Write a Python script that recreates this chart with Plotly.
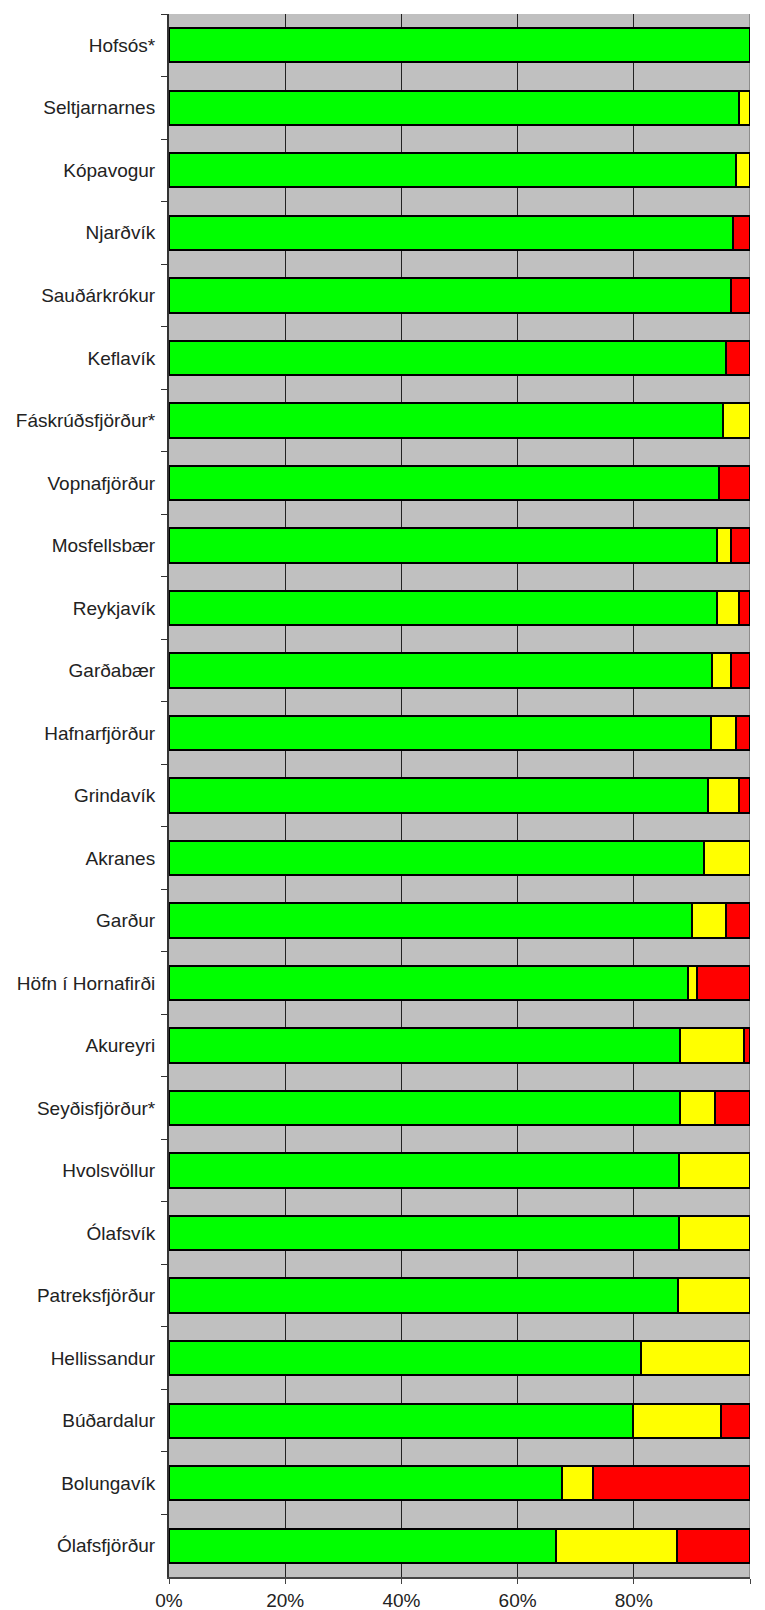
import plotly.graph_objects as go

towns = ["Hofsós*", "Seltjarnarnes", "Kópavogur", "Njarðvík", "Sauðárkrókur",
         "Keflavík", "Fáskrúðsfjörður*", "Vopnafjörður", "Mosfellsbær", "Reykjavík",
         "Garðabær", "Hafnarfjörður", "Grindavík", "Akranes", "Garður",
         "Höfn í Hornafirði", "Akureyri", "Seyðisfjörður*", "Hvolsvöllur", "Ólafsvík",
         "Patreksfjörður", "Hellissandur", "Búðardalur", "Bolungavík", "Ólafsfjörður"]

green = [100.0, 98.1, 97.6, 97.1, 96.8, 95.9, 95.4, 94.6, 94.3, 94.3,
         93.5, 93.3, 92.7, 92.1, 90.0, 89.4, 88.0, 88.0, 87.8, 87.8,
         87.6, 81.2, 79.9, 67.6, 66.6]
yellow = [0.0, 1.9, 2.4, 0.0, 0.0, 0.0, 4.6, 0.0, 2.4, 3.8,
          3.2, 4.3, 5.4, 7.9, 5.9, 1.4, 10.9, 6.0, 12.2, 12.2,
          12.4, 18.8, 15.1, 5.3, 20.9]
red = [0.0, 0.0, 0.0, 2.9, 3.2, 4.1, 0.0, 5.4, 3.3, 1.9,
       3.3, 2.4, 1.9, 0.0, 4.1, 9.2, 1.1, 6.0, 0.0, 0.0,
       0.0, 0.0, 5.0, 27.1, 12.5]

x_ticks = [0, 20, 40, 60, 80, 100]
x_labels = ["0%", "20%", "40%", "60%", "80%", "100%"]

series = [("green", green, "#00FF00"), ("yellow", yellow, "#FFFF00"), ("red", red, "#FF0000")]

fig = go.Figure()
for name, vals, col in series:
    fig.add_trace(go.Bar(
        y=towns, x=[v if v > 0 else None for v in vals], orientation="h", name=name,
        marker=dict(color=col, line=dict(color="#000000", width=2)),
        showlegend=False, hoverinfo="skip"))

fig.update_layout(
    barmode="stack", bargap=0.45,
    width=765, height=1610,
    margin=dict(l=169, r=15, t=14, b=33, autoexpand=False),
    paper_bgcolor="white", plot_bgcolor="#C0C0C0",
    font=dict(family="Liberation Sans, Arial, sans-serif", size=19, color="#222222"),
    xaxis=dict(range=[0, 100], tickvals=x_ticks, ticktext=x_labels,
               showgrid=True, gridcolor="#222222", gridwidth=1,
               showline=True, linecolor="#444444", linewidth=2,
               ticks="outside", ticklen=5, tickcolor="#444444",
               zeroline=False, automargin=False, fixedrange=True),
    yaxis=dict(autorange="reversed", showgrid=False,
               showline=True, linecolor="#333333", linewidth=2,
               ticks="outside", ticklen=6, tickcolor="#333333", tickson="boundaries",
               ticklabelstandoff=8, automargin=False, fixedrange=True),
    shapes=[dict(type="line", xref="x", yref="paper", x0=100, x1=100, y0=0, y1=1,
                 line=dict(color="#8C8C8C", width=2), layer="below")],
)

fig.write_html("out.html", config={"displayModeBar": False},
               post_script="document.body.style.margin='0';document.body.style.overflow='hidden';")
